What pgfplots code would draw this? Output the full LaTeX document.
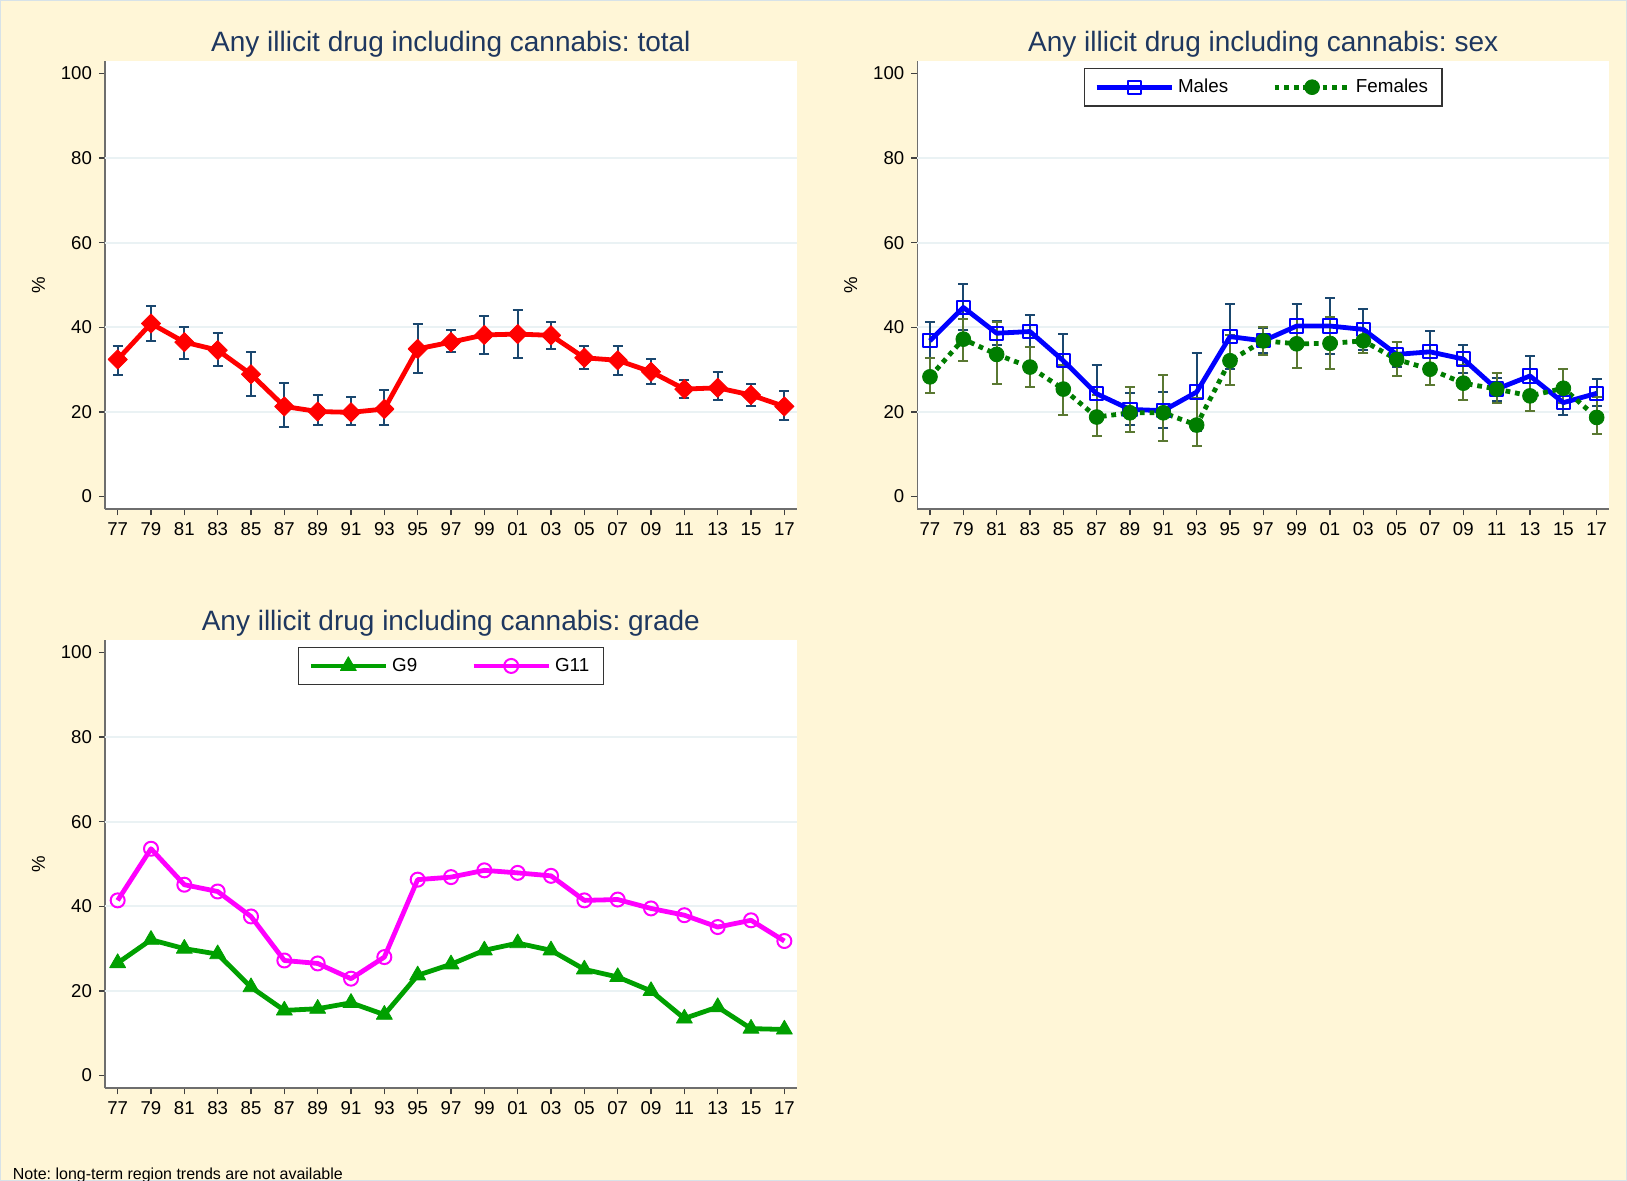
\documentclass[border=0pt]{standalone}
\usepackage{fontspec}
\setmainfont{Liberation Sans}
\usepackage{pgfplots}
\usepackage{pgfplotstable}
\pgfplotsset{compat=1.18}

\definecolor{cream}{RGB}{255,246,215}
\definecolor{framec}{RGB}{215,226,232}
\definecolor{titlec}{RGB}{30,55,95}
\definecolor{gridc}{RGB}{234,242,244}
\definecolor{axisgray}{RGB}{110,110,110}
\definecolor{cinavy}{RGB}{26,71,111}
\definecolor{ciolive}{RGB}{90,120,50}
\definecolor{mblue}{RGB}{0,0,255}
\definecolor{fgreen}{RGB}{0,125,0}
\definecolor{gninegreen}{RGB}{0,160,0}
\definecolor{gmag}{RGB}{255,0,255}

% i = survey index (0 = 1977, 20 = 2017, every 2 years)
\pgfplotstableread{
i y hi lo
0 32.4 35.7 28.8
1 40.9 45.1 36.8
2 36.5 40.0 32.6
3 34.6 38.6 30.9
4 28.9 34.2 23.8
5 21.3 26.9 16.5
6 20.1 24.1 16.9
7 19.9 23.6 16.9
8 20.7 25.1 16.9
9 34.9 40.7 29.3
10 36.5 39.3 34.2
11 38.2 42.7 33.8
12 38.4 44.1 32.8
13 38.1 41.3 34.9
14 32.8 35.5 30.2
15 32.2 35.7 28.7
16 29.5 32.4 26.7
17 25.4 27.6 23.3
18 25.7 29.4 22.8
19 24.0 26.6 21.4
20 21.3 24.9 18.1
}\total

\pgfplotstableread{
i y hi lo
0 36.8 41.2 32.7
1 44.7 50.2 39.4
2 38.6 41.4 35.8
3 39.0 42.8 35.4
4 32.1 38.5 25.6
5 24.3 31.1 19.1
6 20.6 24.5 16.9
7 20.3 24.8 16.3
8 24.7 34.0 15.4
9 37.8 45.5 30.2
10 36.8 39.8 33.9
11 40.3 45.5 35.0
12 40.3 47.0 33.6
13 39.5 44.3 34.6
14 33.6 36.5 30.7
15 34.2 39.1 29.5
16 32.5 35.8 29.1
17 25.4 28.0 22.5
18 28.5 33.2 24.0
19 22.2 24.8 19.3
20 24.4 27.9 21.3
}\males

\pgfplotstableread{
i y hi lo
0 28.3 32.7 24.4
1 37.2 41.9 32.1
2 33.6 41.3 26.5
3 30.6 35.4 26.0
4 25.4 31.1 19.3
5 18.8 24.0 14.2
6 19.8 25.8 15.3
7 19.8 28.7 13.2
8 16.9 23.2 12.0
9 32.1 38.2 26.4
10 36.8 40.0 33.5
11 36.1 41.9 30.5
12 36.2 42.5 30.1
13 36.8 39.4 33.9
14 32.4 36.6 28.5
15 30.1 33.9 26.4
16 26.8 31.1 22.8
17 25.4 29.3 22.1
18 23.8 26.9 20.3
19 25.6 30.1 22.1
20 18.7 23.6 14.8
}\females

\pgfplotstableread{
i g9 g11
0 26.6 41.4
1 32.1 53.6
2 30.0 45.1
3 28.7 43.5
4 20.9 37.6
5 15.4 27.2
6 15.8 26.5
7 17.2 22.9
8 14.4 28.0
9 23.7 46.3
10 26.3 46.9
11 29.6 48.5
12 31.3 47.9
13 29.6 47.2
14 25.1 41.4
15 23.3 41.6
16 20.0 39.5
17 13.5 37.9
18 16.2 35.1
19 11.1 36.7
20 10.9 31.8
}\grade

\pgfplotsset{
  panel/.style={
    scale only axis, width=345.85pt, height=224.3pt, anchor=south west,
    xmin=-0.38, xmax=20.37, ymin=-3, ymax=103,
    axis x line*=bottom, axis y line*=left,
    axis line style={-, draw=axisgray, line width=0.8pt},
    axis background/.style={fill=white},
    xtick={0,...,20},
    xticklabels={77,79,81,83,85,87,89,91,93,95,97,99,01,03,05,07,09,11,13,15,17},
    ytick={0,20,...,100},
    extra y ticks={20,40,60,80}, extra y tick labels={},
    extra y tick style={ymajorgrids=true, major tick length=0pt},
    major grid style={draw=gridc, line width=1pt},
    tick align=outside, major tick length=3pt,
    tick style={draw=black!75, line width=0.7pt},
    tick label style={font=\fontsize{9.3}{11}\selectfont, text=black},
    /pgf/number format/assume math mode=true,
    ylabel={\%},
    ylabel style={font=\fontsize{9.3}{11}\selectfont, at={(axis description cs:-0.0963,0.5)}, anchor=center},
    title style={font=\fontsize{14}{16}\selectfont, text=titlec, anchor=base, yshift=-1.6pt},
    legend columns=2,
    legend cell align=left,
    legend style={at={(0.5,1)}, anchor=north, yshift=-3.6pt, draw=black!80, line width=0.6pt,
      fill=white, font=\fontsize{9.4}{11}\selectfont, inner xsep=5pt, inner ysep=3.2pt},
    legend image code/.code={\draw[mark repeat=2,mark phase=2,##1] plot coordinates {(0pt,0pt) (18.75pt,0pt) (37.5pt,0pt)};},
  },
  ci/.style={draw=none, mark=none, forget plot,
    error bars/.cd, y dir=both, y explicit,
    error bar style={line width=1pt, draw=#1},
    error mark options={rotate=90, mark size=2.5pt, line width=1pt, draw=#1}},
}

\begin{document}
\frenchspacing
\begin{tikzpicture}
\useasboundingbox (0,0) rectangle (813.5pt,590.5pt);
\clip (0,0) rectangle (813.5pt,590.5pt);
\fill[cream] (0,0) rectangle (813.5pt,590.5pt);
\draw[framec, line width=1pt] (0,0) rectangle (813.5pt,590.5pt);

% total
\begin{axis}[panel, at={(52.5pt,335.85pt)}, title={Any illicit drug including cannabis: total}]
\addplot[ci=cinavy] table[x=i, y=y, y error plus expr=\thisrow{hi}-\thisrow{y}, y error minus expr=\thisrow{y}-\thisrow{lo}] {\total};
\addplot[red, line width=2.4pt, line join=round, mark=square*, mark size=3.4pt,
  mark options={rotate=45, solid, line width=0.4pt}] table[x=i, y=y] {\total};
\end{axis}

% sex
\begin{axis}[panel, at={(458.65pt,335.85pt)}, title={Any illicit drug including cannabis: sex},
  legend style={/tikz/every even column/.append style={column sep=20pt}}]
\addplot[ci=cinavy] table[x=i, y=y, y error plus expr=\thisrow{hi}-\thisrow{y}, y error minus expr=\thisrow{y}-\thisrow{lo}] {\males};
\addplot[ci=ciolive] table[x=i, y=y, y error plus expr=\thisrow{hi}-\thisrow{y}, y error minus expr=\thisrow{y}-\thisrow{lo}] {\females};
\addplot[mblue, line width=2.4pt, line join=round, mark=square, mark size=3.3pt,
  mark options={solid, line width=1pt}] table[x=i, y=y] {\males};
\addlegendentry{Males}
\addplot[fgreen, line width=2.4pt, dash pattern=on 2.4pt off 2.4pt, mark=*, mark size=3.7pt,
  mark options={solid, line width=0.4pt}] table[x=i, y=y] {\females};
\addlegendentry{Females\hspace{3pt}}
\end{axis}

% grade
\begin{axis}[panel, at={(52.5pt,46.35pt)}, title={Any illicit drug including cannabis: grade},
  legend style={/tikz/every even column/.append style={column sep=25pt}}]
\addplot[gninegreen, line width=2.4pt, line join=round, mark=triangle*, mark size=4.6pt,
  mark options={solid, line width=0.4pt}] table[x=i, y=g9] {\grade};
\addlegendentry{G9}
\addplot[gmag, line width=2.4pt, line join=round, mark=o, mark size=3.5pt,
  mark options={solid, line width=1pt}] table[x=i, y=g11] {\grade};
\addlegendentry{G11\hspace{16pt}}
\end{axis}

\node[anchor=base west, font=\fontsize{8}{9}\selectfont, inner sep=0pt] at (6.25pt,0.65pt)
  {Note: long-term region trends are not available};
\end{tikzpicture}
\end{document}
